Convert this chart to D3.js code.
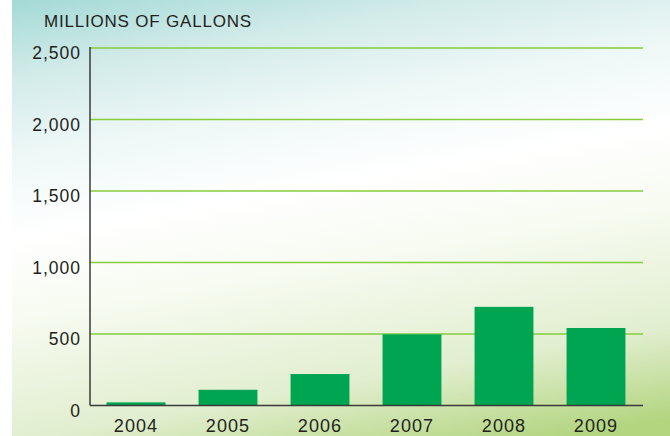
<!DOCTYPE html>
<html>
<head>
<meta charset="utf-8">
<script src="https://cdn.jsdelivr.net/npm/d3@7"></script>
<style>
  html, body { margin: 0; padding: 0; background: #fff; }
  svg { display: block; }
  text { font-family: "Liberation Sans", Arial, sans-serif; fill: #231f20; }
</style>
</head>
<body>
<svg id="chart" width="670" height="436"></svg>
<script>
const years = ["2004", "2005", "2006", "2007", "2008", "2009"];
const gallons = [22, 110, 220, 498, 690, 542];
const yTicks = [0, 500, 1000, 1500, 2000, 2500];
const yTitle = "MILLIONS OF GALLONS";

(function () {
const W = 670, H = 436;
const svg = d3.select("#chart");

// background gradient (mostly vertical, slightly tilted)
const defs = svg.append("defs");
const grad = defs.append("linearGradient")
  .attr("id", "bg").attr("gradientUnits", "userSpaceOnUse")
  .attr("x1", 0).attr("y1", 0).attr("x2", 90).attr("y2", 519);
[[0, "#a2d9d6"], [0.15, "#d2ebe9"], [0.3, "#eef8f7"], [0.45, "#ffffff"],
 [0.6, "#f7fbf1"], [0.83, "#e1eecf"], [1, "#b3d580"]]
  .forEach(([o, c]) => grad.append("stop").attr("offset", o).attr("stop-color", c));
svg.append("rect").attr("x", 12).attr("y", 0).attr("width", W - 12).attr("height", H)
  .attr("fill", "url(#bg)");

const mLeft = 90, mRight = 643, mTop = 48, mBottom = 405.5;

const x = d3.scaleBand().domain(years).range([mLeft, mRight - 1])
  .paddingInner(0.36).paddingOuter(0.18);
const y = d3.scaleLinear().domain([0, 2500]).range([mBottom, mTop]);

// gridlines
svg.append("g").selectAll("line").data(yTicks.filter(d => d > 0)).join("line")
  .attr("x1", mLeft).attr("x2", mRight)
  .attr("y1", d => y(d)).attr("y2", d => y(d))
  .attr("stroke", "#86cc3c").attr("stroke-width", 1.5);

// bars
svg.append("g").selectAll("rect").data(years).join("rect")
  .attr("x", d => x(d)).attr("width", x.bandwidth())
  .attr("y", (d, i) => y(gallons[i]))
  .attr("height", (d, i) => mBottom - y(gallons[i]))
  .attr("fill", "#00a551");

// y axis
const yAxis = d3.axisLeft(y).tickValues(yTicks).tickSize(0).tickPadding(9)
  .tickFormat(d3.format(","));
const gy = svg.append("g").attr("transform", `translate(${mLeft},0)`).call(yAxis);
gy.select(".domain").remove();
gy.selectAll("text").attr("font-size", 17.5).attr("dy", "0.62em").attr("letter-spacing", 1)
  .attr("font-family", "Liberation Sans, Arial, sans-serif").attr("fill", "#231f20");
svg.append("line").attr("x1", mLeft).attr("x2", mLeft).attr("y1", mTop - 1).attr("y2", mBottom)
  .attr("stroke", "#3a3a3a").attr("stroke-width", 1.5);

// x axis
const xAxis = d3.axisBottom(x).tickSize(0).tickPadding(14);
const gx = svg.append("g").attr("transform", `translate(0,${mBottom})`).call(xAxis);
gx.select(".domain").remove();
gx.selectAll("text").attr("font-size", 18).attr("letter-spacing", 1.1)
  .attr("font-family", "Liberation Sans, Arial, sans-serif").attr("fill", "#231f20");
svg.append("line").attr("x1", mLeft).attr("x2", mRight).attr("y1", mBottom).attr("y2", mBottom)
  .attr("stroke", "#3a3a3a").attr("stroke-width", 1.5);

// title
svg.append("text").attr("x", 44).attr("y", 27).attr("font-size", 17)
  .attr("letter-spacing", "0.8").text(yTitle);
})();
</script>
</body>
</html>
